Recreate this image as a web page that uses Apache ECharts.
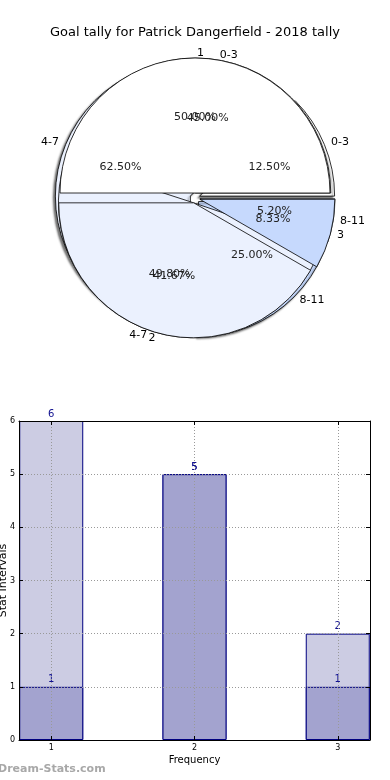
<!DOCTYPE html>
<html>
<head>
<meta charset="utf-8">
<script src="https://cdn.jsdelivr.net/npm/echarts@6/dist/echarts.min.js"></script>
<style>
html,body{margin:0;padding:0;background:#fff;}
#c{width:390px;height:780px;}
</style>
</head>
<body>
<div id="c"></div>
<script>
// ---- data ----
const titleText = 'Goal tally for Patrick Dangerfield - 2018 tally';
const pieBottomLabels = ['0-3', '4-7', '8-11'];
const pieBottomValues = [1, 5, 2];
const pieMidLabels = ['0-3', '4-7', '8-11'];
const pieMidValues = [45.0, 49.8, 5.2];
const pieTopLabels = ['1', '2', '3'];
const pieTopValues = [6, 5, 1];
const pieColors = ['#ffffff', '#ebf1fe', '#c6d9fd'];

const barCategories = ['1', '2', '3'];
const barTotals = [6, 5, 2];
const barParts = [1, 5, 1];
const xTicks = [1, 2, 3];
const xMin = 0.775, xMax = 3.225;
const yMin = 0, yMax = 6, yStep = 1;

// ---- layout ----
const C = [195, 198];
const R = 135;
const FONT = 'DejaVu Sans';
const GL = 19, GR = 20, GT = 421, GB = 40, W = 390;
const pxPerUnit = (W - GL - GR) / (xMax - xMin);
// category grid for the bars, aligned so that band centres sit on x = 1, 2, 3
const g2Left = GL + (xTicks[0] - 0.5 - xMin) * pxPerUnit;
const g2Right = W - (g2Left + barCategories.length * pxPerUnit);

function pieData(labels, values, sel) {
  return labels.map((n, i) => ({
    name: n, value: values[i], selected: sel,
    itemStyle: { color: pieColors[i % pieColors.length] }
  }));
}
function mainPie(labels, values, extra) {
  return Object.assign({
    type: 'pie', center: C, radius: R, startAngle: 0, clockwise: false,
    avoidLabelOverlap: false, selectedMode: 'multiple', selectedOffset: 5,
    percentPrecision: 2, silent: true,
    labelLayout: { hideOverlap: false },
    itemStyle: { borderColor: '#000', borderWidth: 0.8 },
    label: { show: true, position: 'outside', color: '#000', fontSize: 11, fontFamily: FONT, distanceToLabelLine: 2, formatter: '{b}' },
    labelLine: { show: false, length: 5, length2: 0 },
    emphasis: { disabled: true },
    data: pieData(labels, values, true)
  }, extra || {});
}
function pctPie(labels, values) {
  return {
    type: 'pie', center: C, radius: R * 1.15, startAngle: 0, clockwise: false,
    avoidLabelOverlap: false, percentPrecision: 2, silent: true, z: 5,
    labelLayout: { hideOverlap: false },
    itemStyle: { color: 'rgba(0,0,0,0)', borderWidth: 0 },
    label: { show: true, position: 'inner', color: '#222', fontSize: 11, fontFamily: FONT,
      formatter: p => p.percent.toFixed(2) + '%' },
    labelLine: { show: false },
    emphasis: { disabled: true },
    data: labels.map((n, i) => ({ name: n, value: values[i] }))
  };
}

const axisFont = { fontFamily: FONT, fontSize: 8, color: '#000' };
const gridLine = { show: true, lineStyle: { type: [1, 2], color: '#999', width: 1 } };
const frameLine = { show: true, onZero: false, lineStyle: { color: '#000', width: 1 } };
const tick = { show: true, inside: true, length: 4, lineStyle: { color: '#000' } };

const option = {
  animation: false,
  backgroundColor: '#fff',
  textStyle: { fontFamily: FONT },
  title: {
    text: titleText, left: 'center', top: 21,
    textStyle: { fontFamily: FONT, fontSize: 13, fontWeight: 'normal', color: '#000' }
  },
  graphic: [{
    type: 'text', left: -2, top: 764,
    style: { text: 'Dream-Stats.com', fill: '#a8a8a8', font: 'bold 11px "DejaVu Sans"' }
  }],
  grid: [
    { left: GL, right: GR, top: GT, bottom: GB, containLabel: false, outerBoundsMode: 'none' },
    { left: g2Left, right: g2Right, top: GT, bottom: GB, containLabel: false, outerBoundsMode: 'none' }
  ],
  xAxis: [{
    type: 'value', gridIndex: 0, min: xMin, max: xMax, position: 'bottom', z: 5,
    name: 'Frequency', nameLocation: 'middle', nameGap: 15, nameMoveOverlap: false,
    nameTextStyle: { fontFamily: FONT, fontSize: 10, color: '#000' },
    axisLine: frameLine,
    axisTick: Object.assign({ customValues: xTicks }, tick),
    axisLabel: { customValues: xTicks, margin: 4, ...axisFont },
    splitLine: gridLine
  }, {
    type: 'value', gridIndex: 0, min: xMin, max: xMax, position: 'top', z: 5,
    axisLine: frameLine,
    axisTick: Object.assign({ customValues: xTicks }, tick),
    axisLabel: { show: false },
    splitLine: { show: false }
  }, {
    type: 'category', gridIndex: 1, data: barCategories, show: false
  }],
  yAxis: [{
    type: 'value', gridIndex: 0, min: yMin, max: yMax, interval: yStep, position: 'left', z: 5,
    name: 'Stat Intervals', nameLocation: 'middle', nameGap: 10, nameRotate: 90, nameMoveOverlap: false,
    nameTextStyle: { fontFamily: FONT, fontSize: 11, color: '#000' },
    axisLine: frameLine,
    axisTick: tick,
    axisLabel: { margin: 4, ...axisFont },
    splitLine: gridLine
  }, {
    type: 'value', gridIndex: 0, min: yMin, max: yMax, interval: yStep, position: 'right', z: 5,
    axisLine: frameLine,
    axisTick: tick,
    axisLabel: { show: false },
    splitLine: { show: false }
  }, {
    type: 'value', gridIndex: 1, min: yMin, max: yMax, interval: yStep, show: false
  }],
  series: [
    mainPie(pieBottomLabels, pieBottomValues, {
      itemStyle: { borderColor: '#000', borderWidth: 0.8, shadowBlur: 2, shadowColor: 'rgba(0,0,0,0.55)', shadowOffsetX: -2, shadowOffsetY: 2 }
    }),
    mainPie(pieMidLabels, pieMidValues),
    mainPie(pieTopLabels, pieTopValues),
    pctPie(pieBottomLabels, pieBottomValues),
    pctPie(pieMidLabels, pieMidValues),
    pctPie(pieTopLabels, pieTopValues),
    {
      type: 'bar', xAxisIndex: 2, yAxisIndex: 2, barWidth: 64, barGap: '-100%', silent: true,
      itemStyle: { color: '#ccccE3', borderColor: '#000080', borderWidth: 1 },
      label: { show: true, position: 'top', distance: 2, color: '#10108f', fontSize: 10, fontFamily: FONT },
      data: barTotals
    },
    {
      type: 'bar', xAxisIndex: 2, yAxisIndex: 2, barWidth: 64, barGap: '-100%', silent: true,
      itemStyle: { color: '#a3a3cf', borderColor: '#000080', borderWidth: 1 },
      label: { show: true, position: 'top', distance: 2, color: '#10108f', fontSize: 10, fontFamily: FONT },
      data: barParts
    }
  ]
};
const chart = echarts.init(document.getElementById('c'), null, { renderer: 'canvas', width: 390, height: 780 });
chart.setOption(option);
</script>
</body>
</html>
